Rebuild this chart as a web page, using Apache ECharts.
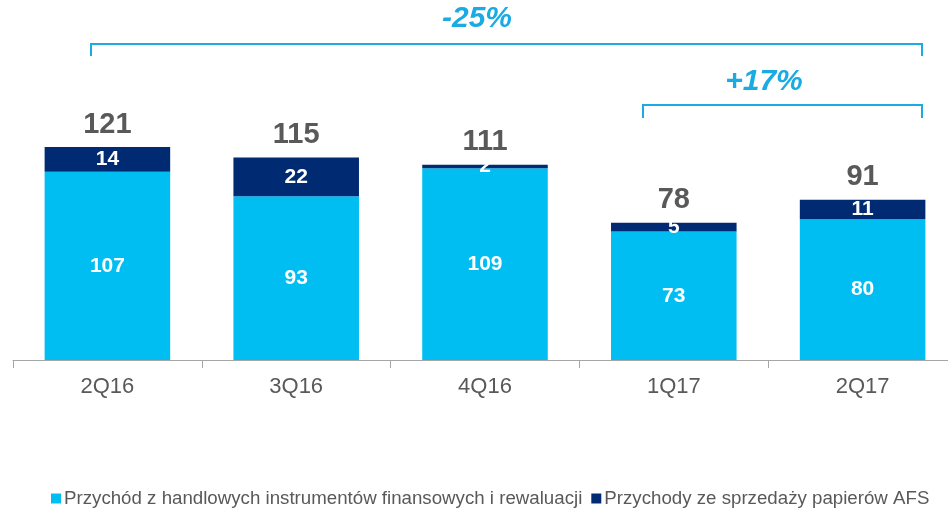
<!DOCTYPE html>
<html>
<head>
<meta charset="utf-8">
<script src="https://cdn.jsdelivr.net/npm/echarts@6/dist/echarts.min.js"></script>
<style>
  html, body { margin: 0; padding: 0; background: #fff; overflow: hidden; }
  /* a little wider than the window so the last band runs off the right edge */
  #chart { width: 966px; height: 508px; }
</style>
</head>
<body>
<div id="chart"></div>
<script>
// quarters on the x axis
const quarters = ["2Q16", "3Q16", "4Q16", "1Q17", "2Q17"];
// trading + revaluation income
const tradingIncome = [107, 93, 109, 73, 80];
// AFS securities sales
const afsIncome = [14, 22, 2, 5, 11];
// totals printed above bars
const totals = [121, 115, 111, 78, 91];

const seriesNames = [
  "Przychód z handlowych instrumentów finansowych i rewaluacji",
  "Przychody ze sprzedaży papierów AFS",
];

const lightBlue = "#00BEF2";
const navy = "#002B72";
const bracketBlue = "#1AABE2";
const textGray = "#595959";
const fontStack = "Liberation Sans, Arial, sans-serif";

const chart = echarts.init(document.getElementById("chart"), null, { renderer: "canvas" });

const option = {
  animation: false,
  textStyle: { fontFamily: fontStack },
  grid: { left: 13, right: 9, top: 96, height: 264, containLabel: false },
  legend: {
    left: 46,
    top: 484,
    itemWidth: 10,
    itemHeight: 10,
    itemGap: 9,
    icon: "rect",
    textStyle: { color: textGray, fontSize: 18.7, padding: [0, 0, 0, -2] },
    data: seriesNames,
  },
  xAxis: {
    type: "category",
    data: quarters,
    axisLine: { lineStyle: { color: "#A6A6A6", width: 1 } },
    axisTick: { show: true, length: 8, lineStyle: { color: "#A6A6A6" } },
    axisLabel: { color: textGray, fontSize: 22, margin: 16 },
  },
  yAxis: {
    type: "value",
    min: 0,
    max: 150,
    show: false,
    splitLine: { show: false },
  },
  series: [
    {
      name: seriesNames[0],
      type: "bar",
      stack: "total",
      barWidth: "66.5%",
      data: tradingIncome,
      itemStyle: { color: lightBlue },
      label: {
        show: true,
        position: "inside",
        color: "#fff",
        fontWeight: "bold",
        fontSize: 21,
      },
    },
    {
      name: seriesNames[1],
      type: "bar",
      stack: "total",
      data: afsIncome,
      itemStyle: { color: navy },
      label: {
        show: true,
        position: "inside",
        color: "#fff",
        fontWeight: "bold",
        fontSize: 21,
      },
    },
    {
      // invisible series just to carry the total labels
      name: "total",
      type: "bar",
      stack: "total",
      data: totals.map(() => 0),
      itemStyle: { color: "transparent" },
      label: {
        show: true,
        position: "top",
        distance: 8,
        color: textGray,
        fontWeight: "bold",
        fontSize: 29,
        formatter: (p) => totals[p.dataIndex],
      },
    },
  ],
  graphic: [
    // -25% bracket
    {
      type: "polyline",
      shape: { points: [[91, 56], [91, 44], [922, 44], [922, 56]] },
      style: { stroke: bracketBlue, lineWidth: 2, fill: null },
    },
    {
      type: "text",
      x: 477,
      y: 19,
      style: {
        text: "-25%",
        fill: bracketBlue,
        font: "italic bold 30px " + fontStack,
        align: "center",
        verticalAlign: "middle",
      },
    },
    // +17% bracket
    {
      type: "polyline",
      shape: { points: [[643, 118], [643, 105], [922, 105], [922, 118]] },
      style: { stroke: bracketBlue, lineWidth: 2, fill: null },
    },
    {
      type: "text",
      x: 764,
      y: 82,
      style: {
        text: "+17%",
        fill: bracketBlue,
        font: "italic bold 30px " + fontStack,
        align: "center",
        verticalAlign: "middle",
      },
    },
  ],
};

chart.setOption(option);
</script>
</body>
</html>
